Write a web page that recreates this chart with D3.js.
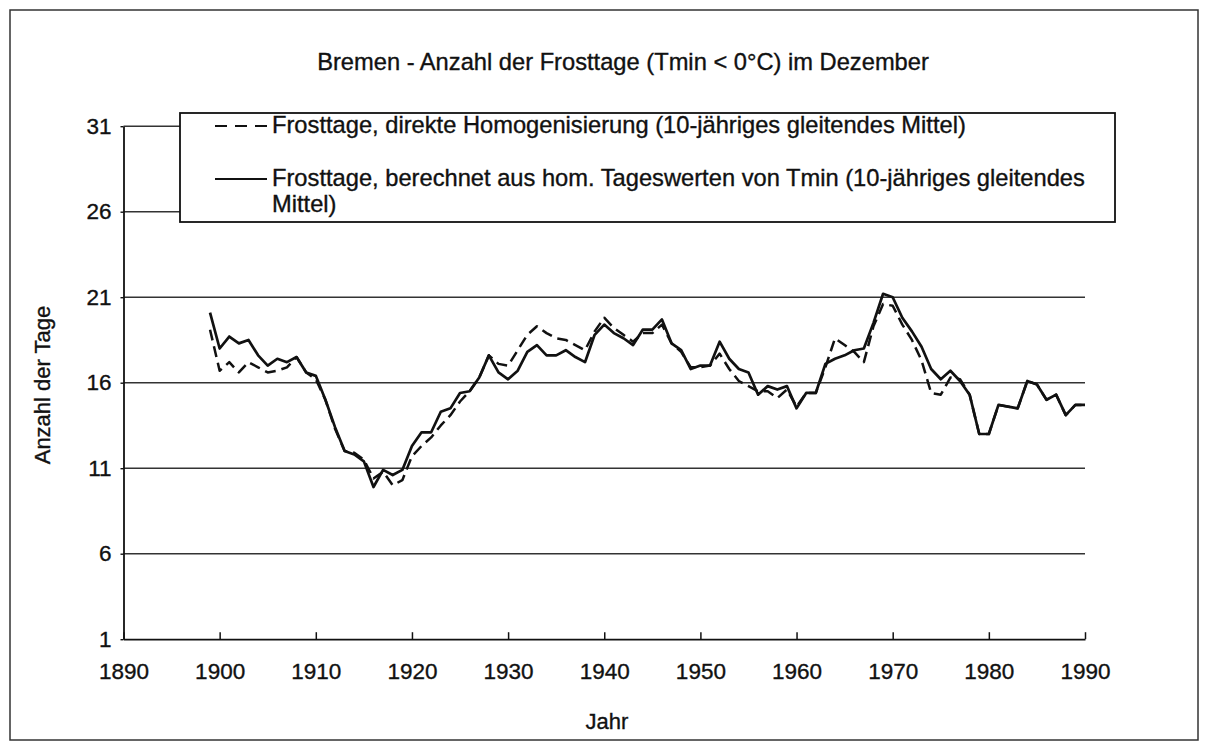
<!DOCTYPE html>
<html>
<head>
<meta charset="utf-8">
<script src="https://cdn.jsdelivr.net/npm/d3@7"></script>
<style>
  html, body { margin: 0; padding: 0; background: #fff; }
  svg { display: block; }
  text { font-family: "Liberation Sans", Arial, sans-serif; fill: #111; stroke: #111; stroke-width: 0.35px; }
</style>
</head>
<body>
<svg id="chart" width="1211" height="751"></svg>
<script>
// ---------- data ----------
const title = "Bremen - Anzahl der Frosttage (Tmin < 0°C) im Dezember";
const xLabel = "Jahr";
const yLabel = "Anzahl der Tage";
const legendDashed = "Frosttage, direkte Homogenisierung (10-jähriges gleitendes Mittel)";
const legendSolidLines = ["Frosttage, berechnet aus hom. Tageswerten von Tmin (10-jähriges gleitendes", "Mittel)"];

const xTicks = [1890, 1900, 1910, 1920, 1930, 1940, 1950, 1960, 1970, 1980, 1990];
const yTicks = [1, 6, 11, 16, 21, 26, 31];

const firstYear = 1899;
const lastYear = 1990;
const years = d3.range(firstYear, lastYear + 1);

// Frosttage, berechnet aus hom. Tageswerten von Tmin (solid)
const solidValues = [
  20.1, 18.0, 18.7, 18.3, 18.5, 17.6, 17.0, 17.4, 17.2, 17.5, // 1899-1908
  16.6, 16.4, 15.0, 13.4, 12.0, 11.8, 11.4, 9.9, 10.9, 10.6,  // 1909-1918
  10.9, 12.3, 13.1, 13.1, 14.3, 14.5, 15.4, 15.5, 16.3, 17.6, // 1919-1928
  16.6, 16.2, 16.7, 17.8, 18.2, 17.6, 17.6, 17.9, 17.5, 17.2, // 1929-1938
  18.8, 19.4, 18.9, 18.6, 18.2, 19.1, 19.1, 19.7, 18.3, 17.9, // 1939-1948
  16.8, 17.0, 17.0, 18.4, 17.4, 16.8, 16.6, 15.3, 15.8, 15.6, // 1949-1958
  15.8, 14.5, 15.4, 15.4, 17.1, 17.4, 17.6, 17.9, 18.0, 19.5, // 1959-1968
  21.2, 21.0, 19.8, 19.0, 18.1, 16.8, 16.2, 16.7, 16.1, 15.3, // 1969-1978
  13.0, 13.0, 14.7, 14.6, 14.5, 16.1, 15.9, 15.0, 15.3, 14.1, // 1979-1988
  14.7, 14.7                                                  // 1989-1990
];

// Frosttage, direkte Homogenisierung (dashed)
const dashedValues = [
  19.1, 16.7, 17.2, 16.6, 17.2, 16.9, 16.6, 16.7, 16.9, 17.5, // 1899-1908
  16.6, 16.2, 15.0, 13.3, 12.0, 11.9, 11.5, 10.4, 10.8, 10.0, // 1909-1918
  10.3, 11.7, 12.3, 12.8, 13.5, 14.1, 14.9, 15.5, 16.3, 17.6, // 1919-1928
  17.1, 17.0, 17.9, 18.8, 19.3, 18.9, 18.6, 18.5, 18.2, 17.9, // 1929-1938
  19.0, 19.8, 19.2, 18.8, 18.4, 18.9, 18.9, 19.4, 18.3, 17.8, // 1939-1948
  16.9, 16.9, 17.0, 17.7, 16.8, 16.1, 15.8, 15.5, 15.5, 15.1, // 1949-1958
  15.6, 14.6, 15.4, 15.4, 16.9, 18.6, 18.2, 17.8, 17.2, 19.3, // 1959-1968
  20.6, 20.5, 19.4, 18.5, 17.3, 15.4, 15.3, 16.3, 16.2, 15.3, // 1969-1978
  13.0, 13.0, 14.7, 14.6, 14.5, 16.1, 15.9, 15.0, 15.3, 14.1, // 1979-1988
  14.7, 14.7                                                  // 1989-1990
];

// ---------- drawing ----------
const svg = d3.select("#chart");
const ink = "#111";
const fontFam = '"Liberation Sans", Arial, sans-serif';

// outer frame
svg.append("rect")
  .attr("x", 10).attr("y", 10).attr("width", 1188).attr("height", 730)
  .attr("fill", "none").attr("stroke", "#333").attr("stroke-width", 1.5);

const x = d3.scaleLinear().domain([1890, 1990]).range([123.5, 1085]);
const y = d3.scaleLinear().domain([1, 31]).range([639.2, 126.2]);

// gridlines
svg.append("g").selectAll("line")
  .data(yTicks.filter(d => d !== 1))
  .join("line")
  .attr("x1", x(1890)).attr("x2", x(1990))
  .attr("y1", d => y(d)).attr("y2", d => y(d))
  .attr("stroke", "#333").attr("stroke-width", 1.4);

// x axis
const xAxis = svg.append("g")
  .attr("transform", `translate(0,${y(1)})`)
  .call(d3.axisBottom(x).tickValues(xTicks).tickFormat(d3.format("d"))
    .tickSizeInner(-7).tickSizeOuter(0).tickPadding(24));
xAxis.select(".domain").attr("stroke", ink).attr("stroke-width", 1.8);
xAxis.selectAll(".tick line").attr("stroke", ink).attr("stroke-width", 1.5);
xAxis.selectAll(".tick text")
  .style("font-family", fontFam)
  .style("font-size", "22.5px").attr("fill", ink);

// y axis
const yAxis = svg.append("g")
  .attr("transform", `translate(${x(1890)},0)`)
  .call(d3.axisLeft(y).tickValues(yTicks).tickFormat(d3.format("d"))
    .tickSizeInner(3).tickSizeOuter(0).tickPadding(9));
yAxis.select(".domain").attr("stroke", ink).attr("stroke-width", 1.8);
yAxis.selectAll(".tick line").attr("stroke", ink).attr("stroke-width", 1.4);
yAxis.selectAll(".tick text")
  .style("font-family", fontFam)
  .style("font-size", "22.5px").attr("fill", ink);

// series lines
const lineGen = vals => d3.line()
  .x((d, i) => x(years[i]))
  .y(d => y(d))(vals);

svg.append("path")
  .attr("d", lineGen(dashedValues))
  .attr("fill", "none").attr("stroke", ink).attr("stroke-width", 2.5)
  .attr("stroke-dasharray", "11,6").attr("stroke-linejoin", "round");

svg.append("path")
  .attr("d", lineGen(solidValues))
  .attr("fill", "none").attr("stroke", ink).attr("stroke-width", 2.7)
  .attr("stroke-linejoin", "round");

// legend box
const lg = svg.append("g");
lg.append("rect")
  .attr("x", 180).attr("y", 113).attr("width", 935).attr("height", 109)
  .attr("fill", "#fff").attr("stroke", ink).attr("stroke-width", 1.8);
lg.append("line")
  .attr("x1", 215).attr("x2", 267).attr("y1", 126).attr("y2", 126)
  .attr("stroke", ink).attr("stroke-width", 2.2).attr("stroke-dasharray", "12,8");
lg.append("text")
  .attr("x", 272).attr("y", 133)
  .style("font-size", "23.7px")
  .text(legendDashed);
lg.append("line")
  .attr("x1", 215).attr("x2", 267).attr("y1", 179).attr("y2", 179)
  .attr("stroke", ink).attr("stroke-width", 2.2);
lg.append("text")
  .attr("x", 272).attr("y", 186)
  .style("font-size", "23.7px")
  .text(legendSolidLines[0]);
lg.append("text")
  .attr("x", 272).attr("y", 212)
  .style("font-size", "23.7px")
  .text(legendSolidLines[1]);

// title
svg.append("text")
  .attr("x", 623).attr("y", 70)
  .attr("text-anchor", "middle")
  .style("font-size", "23.7px")
  .text(title);

// axis titles
svg.append("text")
  .attr("x", 607).attr("y", 729)
  .attr("text-anchor", "middle")
  .style("font-size", "22px")
  .text(xLabel);

svg.append("text")
  .attr("transform", `translate(50,385) rotate(-90)`)
  .attr("text-anchor", "middle")
  .style("font-size", "22px")
  .text(yLabel);
</script>
</body>
</html>
